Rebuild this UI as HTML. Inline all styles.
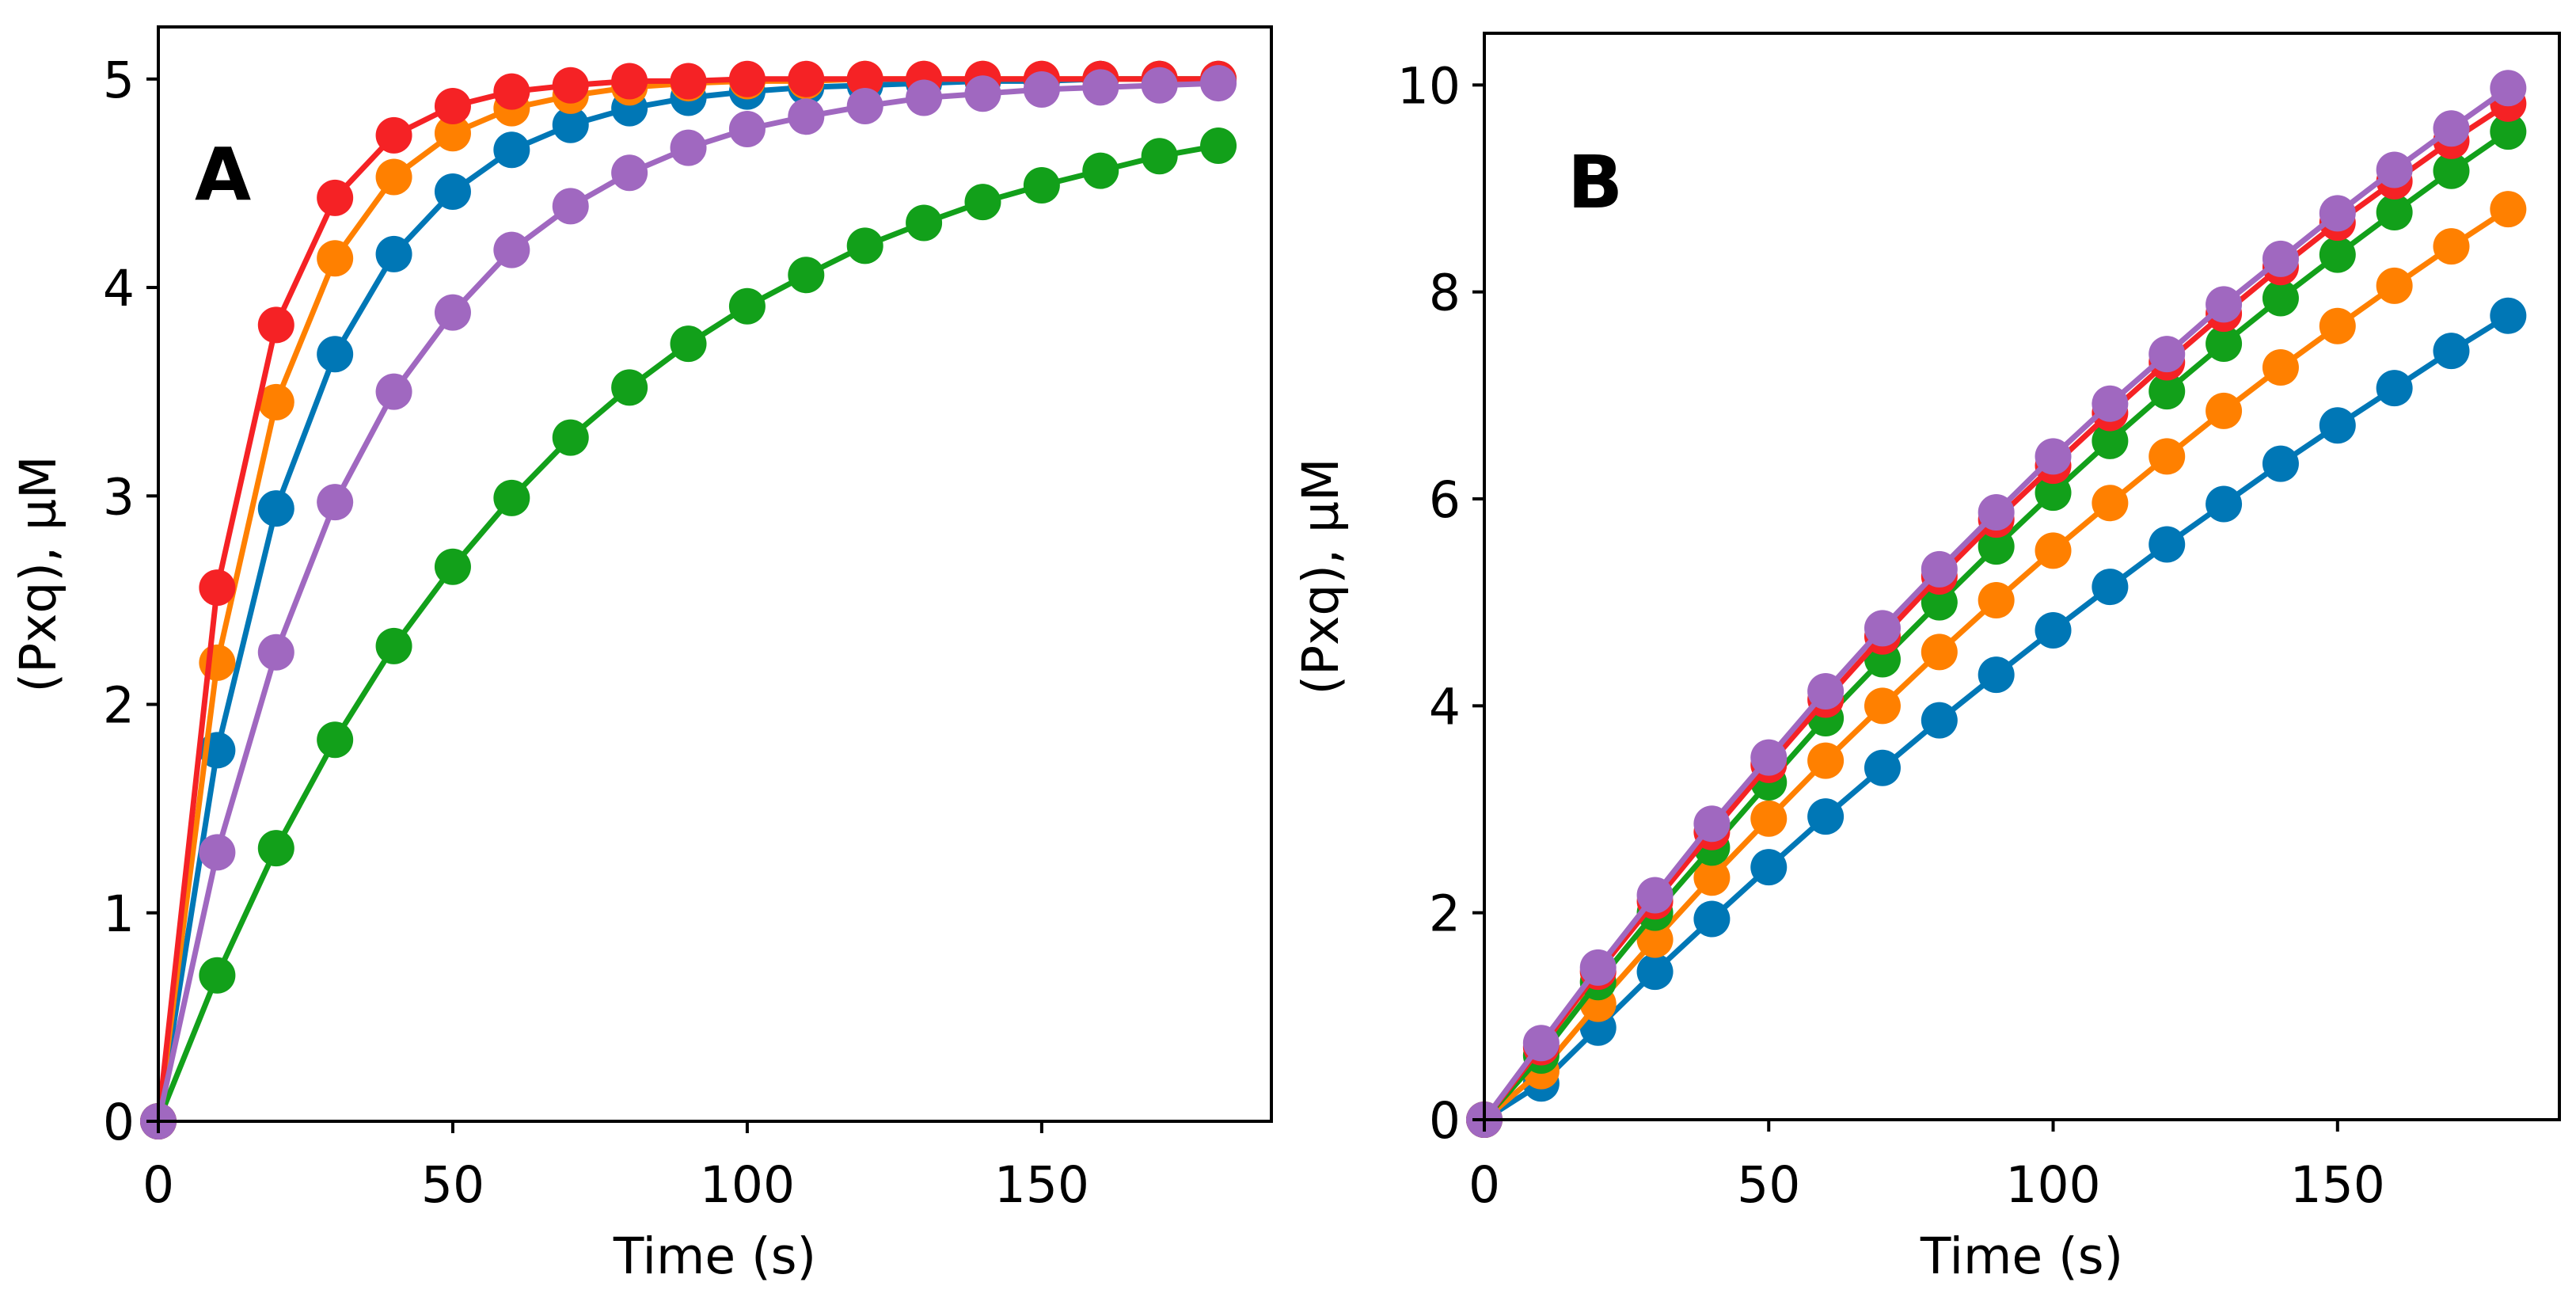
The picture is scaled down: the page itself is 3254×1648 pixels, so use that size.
<!DOCTYPE html>
<html><head><meta charset="utf-8"><style>
html,body{margin:0;padding:0;background:#fff;}
svg{display:block;font-family:"DejaVu Sans","Liberation Sans",sans-serif;}
</style></head><body>
<svg id="chart" width="3254" height="1648" viewBox="0 0 3254 1648"></svg>
<script>
const times = [0,10,20,30,40,50,60,70,80,90,100,110,120,130,140,150,160,170,180];
const colors = ["#0077b6","#ff8000","#12a01a","#f52225","#a068c0"];
const seriesNames = ["blue","orange","green","red","purple"];
const aBlue = [0,1.78,2.94,3.68,4.16,4.46,4.66,4.78,4.86,4.91,4.94,4.96,4.97,4.98,4.99,4.99,5,5,5];
const aOrange = [0,2.2,3.45,4.14,4.53,4.74,4.86,4.92,4.96,4.98,4.99,4.99,5,5,5,5,5,5,5];
const aGreen = [0,0.7,1.31,1.83,2.28,2.66,2.99,3.28,3.52,3.73,3.91,4.06,4.2,4.31,4.41,4.49,4.56,4.63,4.68];
const aRed = [0,2.56,3.82,4.43,4.73,4.87,4.94,4.97,4.99,4.99,5,5,5,5,5,5,5,5,5];
const aPurple = [0,1.29,2.25,2.97,3.5,3.88,4.18,4.39,4.55,4.67,4.76,4.82,4.87,4.91,4.93,4.95,4.96,4.97,4.98];
const bBlue = [0,0.35,0.89,1.43,1.94,2.44,2.93,3.4,3.86,4.3,4.73,5.15,5.56,5.95,6.34,6.71,7.07,7.43,7.77];
const bOrange = [0,0.47,1.12,1.74,2.34,2.91,3.47,4.0,4.52,5.02,5.5,5.96,6.41,6.85,7.27,7.67,8.06,8.44,8.8];
const bGreen = [0,0.62,1.33,2.0,2.63,3.26,3.88,4.45,5.0,5.54,6.06,6.56,7.04,7.5,7.94,8.36,8.77,9.17,9.55];
const bRed = [0,0.7,1.43,2.11,2.78,3.43,4.06,4.67,5.25,5.8,6.32,6.83,7.32,7.79,8.24,8.67,9.07,9.46,9.82];
const bPurple = [0,0.74,1.47,2.17,2.86,3.5,4.14,4.75,5.32,5.87,6.41,6.92,7.4,7.88,8.32,8.76,9.18,9.58,9.97];
const xTicks = [0,50,100,150];
const aYTicks = [0,1,2,3,4,5];
const bYTicks = [0,2,4,6,8,10];

const NS="http://www.w3.org/2000/svg";
const svg=document.getElementById('chart');
function mk(tag,attrs,parent){const e=document.createElementNS(NS,tag);for(const k in attrs)e.setAttribute(k,attrs[k]);(parent||svg).appendChild(e);return e;}

function panel(key,box,xmax,ymax,yTicks,series,letter,letterPos,ylabelX){
  const g=mk('g',{});
  
  
  const xs=v=>box.l+(v/xmax)*(box.r-box.l);
  const ys=v=>box.b-(v/ymax)*(box.b-box.t);
  series.forEach((vals,si)=>{
    const sg=mk('g',{},g);
    
    
    const pts=vals.map((v,i)=>xs(times[i]).toFixed(1)+','+ys(v).toFixed(1)).join(' ');
    const pl=mk('polyline',{points:pts,fill:'none',stroke:colors[si],'stroke-width':7,'stroke-linejoin':'round'},sg);
    
    
    vals.forEach((v,i)=>{
      const c=mk('circle',{cx:xs(times[i]),cy:ys(v),r:23,fill:colors[si]},sg);
      
      
    });
  });
  const frame=mk('rect',{x:box.l,y:box.t,width:box.r-box.l,height:box.b-box.t,fill:'none',stroke:'#000','stroke-width':4},g);
  
  
  xTicks.forEach(t=>{
    const x=xs(t);
    mk('line',{x1:x,y1:box.b,x2:x,y2:box.b+15,stroke:'#000','stroke-width':4},g);
    const tx=mk('text',{x:x,y:1518,'font-size':63,'text-anchor':'middle',fill:'#000'},g);
    tx.textContent=t;
    
    
  });
  yTicks.forEach(t=>{
    const y=ys(t);
    mk('line',{x1:box.l-15,y1:y,x2:box.l,y2:y,stroke:'#000','stroke-width':4},g);
    const tx=mk('text',{x:box.l-30,y:y+23,'font-size':63,'text-anchor':'end',fill:'#000'},g);
    tx.textContent=t;
    
    
  });
  const xl=mk('text',{x:(box.l+box.r)/2,y:1608,'font-size':63,'text-anchor':'middle',fill:'#000'},g);
  xl.textContent='Time (s)';
  
  
  const cy=(box.t+box.b)/2;
  const yl=mk('text',{x:ylabelX,y:cy,'font-size':63,'text-anchor':'middle',fill:'#000',transform:'rotate(-90 '+ylabelX+' '+cy+')'},g);
  yl.textContent='(Pxq), µM';
  
  
  const lt=mk('text',{x:letterPos[0],y:letterPos[1],'font-size':92,'font-weight':'bold',fill:'#000'},g);
  lt.textContent=letter;
  
  
}
panel('a',{l:200,r:1606,t:34,b:1416},189,5.25,aYTicks,[aBlue,aOrange,aGreen,aRed,aPurple],'A',[246,252],70);
panel('b',{l:1875,r:3233,t:42,b:1414},189,10.5,bYTicks,[bBlue,bOrange,bGreen,bRed,bPurple],'B',[1980,262],1690);
</script>
</body></html>
